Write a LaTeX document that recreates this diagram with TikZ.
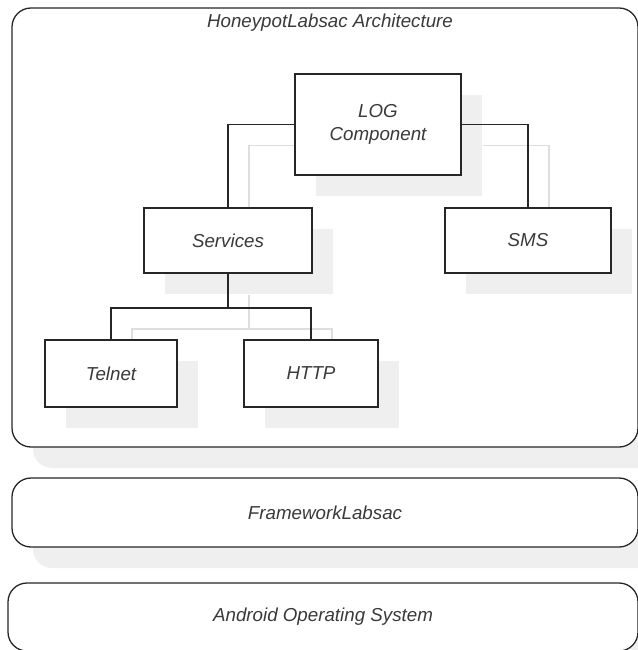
\documentclass[tikz,border=0pt]{standalone}
\usepackage{fontspec}
\setmainfont{Liberation Sans}
\usepackage{tikz}
\usetikzlibrary{positioning,shadows,calc}
\definecolor{LineDark}{HTML}{262626}
\definecolor{TextGray}{HTML}{3A3A3A}
\definecolor{ShadeGray}{HTML}{EFEFEF}
\pgfdeclarelayer{back}
\pgfdeclarelayer{mid}
\pgfsetlayers{back,mid,main}
\newcommand{\pxu}{0.03cm}

\begin{document}
\begin{tikzpicture}[x=0.03cm,y=-0.03cm,
    font=\fontsize{16}{19.5}\selectfont\itshape,
    sh/.style={drop shadow={shadow xshift=21*\pxu,shadow yshift=-21*\pxu,
               fill=ShadeGray,opacity=1}},
    bx/.style={rectangle,draw=LineDark,line width=1.1pt,fill=white,sh,
               inner sep=0pt,align=center,text=TextGray,minimum width=#1},
    layer/.style={bx=#1,rounded corners=19*\pxu},
    ln/.style={LineDark,line width=1.1pt},
    lnsh/.style={ShadeGray!85!gray,line width=1.1pt}]
\useasboundingbox (0,0) rectangle (637,650);
\clip (0,0) rectangle (637,650);
% layers of the stack
\begin{pgfonlayer}{back}
\node[layer=626*\pxu,minimum height=439*\pxu] (arch) at (325,227.5) {};
\node[layer=626*\pxu,minimum height=69*\pxu]  (fw)   at (325,512.5) {FrameworkLabsac};
\node[layer=630*\pxu,minimum height=68*\pxu]  (os)   at (323,617)   {Android Operating System};
\end{pgfonlayer}
\node[text=TextGray] (title) at (330,23) {HoneypotLabsac Architecture};
% component tree
\node[bx=166*\pxu,minimum height=101*\pxu] (log)  at (378,124.5) {LOG\\Component};
\node[bx=168*\pxu,minimum height=65*\pxu]  (svc)  at (228,240.5) {Services};
\node[bx=166*\pxu,minimum height=65*\pxu]  (sms)  at (528,240.5) {SMS};
\node[bx=132*\pxu,minimum height=67*\pxu]  (tel)  at (111,373.5) {Telnet};
\node[bx=134*\pxu,minimum height=67*\pxu]  (http) at (311,373.5) {HTTP};
\coordinate (fork) at (228,308);
\draw[ln] (log.west) -| (svc.north);
\draw[ln] (log.east) -| (sms.north);
\draw[ln] (svc.south) -- (svc.south |- fork) -| (tel.north);
\draw[ln] (svc.south |- fork) -| (http.north);
% shadows of the connectors
\begin{pgfonlayer}{mid}
\begin{scope}[transform canvas={shift={(21*\pxu,-21*\pxu)}}]
\draw[lnsh] (log.west) -| (svc.north);
\draw[lnsh] (log.east) -| (sms.north);
\draw[lnsh] (svc.south) -- (svc.south |- fork) -| (tel.north);
\draw[lnsh] (svc.south |- fork) -| (http.north);
\end{scope}
\end{pgfonlayer}
\end{tikzpicture}
\end{document}
